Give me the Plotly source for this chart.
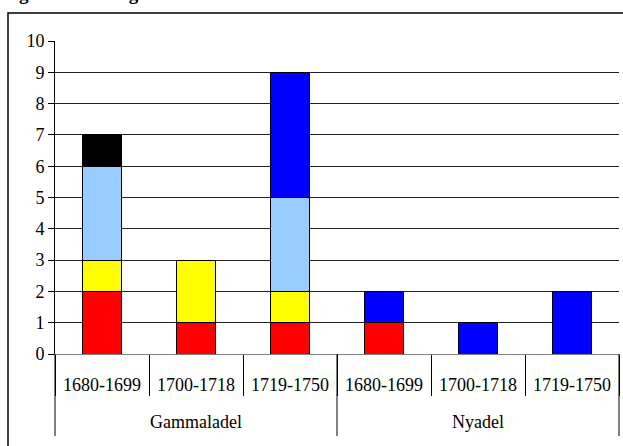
import plotly.graph_objects as go

groups = ["Gammaladel", "Gammaladel", "Gammaladel", "Nyadel", "Nyadel", "Nyadel"]
periods = ["1680-1699", "1700-1718", "1719-1750", "1680-1699", "1700-1718", "1719-1750"]
group_names = ["Gammaladel", "Nyadel"]

serie_1 = [2, 1, 1, 1, 0, 0]
serie_2 = [1, 2, 1, 0, 0, 0]
serie_3 = [3, 0, 3, 0, 0, 0]
serie_4 = [1, 0, 0, 0, 0, 0]
serie_5 = [0, 0, 4, 1, 1, 2]

series = [
    ("Serie 1", serie_1, "#FF0000"),
    ("Serie 2", serie_2, "#FFFF00"),
    ("Serie 3", serie_3, "#99CCFF"),
    ("Serie 4", serie_4, "#000000"),
    ("Serie 5", serie_5, "#0000FF"),
]

title_text = "Figur 4a. Manlig danskt-skånsk adel"

FONT = "Liberation Serif"

n = len(periods)
xpos = list(range(n))

fig = go.Figure()
for name, vals, col in series:
    fig.add_trace(go.Bar(
        x=xpos, y=vals, name=name, width=0.415,
        customdata=[[g, p] for g, p in zip(groups, periods)],
        hovertemplate="%{customdata[0]} %{customdata[1]}: %{y}<extra>" + name + "</extra>",
        marker=dict(color=col, line=dict(color="#000000", width=1)),
        showlegend=False,
    ))

L, R, T, B = 55, 4, 41, 92
W, H = 623, 446
pw, ph = W - L - R, H - T - B

def px_x(p):
    return (p - L) / pw

def px_y(p):
    return (H - B - p) / ph

shapes = [dict(
    type="rect", xref="paper", yref="paper",
    x0=px_x(8), x1=px_x(700), y0=px_y(600), y1=px_y(13),
    line=dict(color="#000000", width=1.5), fillcolor="rgba(0,0,0,0)",
    layer="below",
)]
ng = len(group_names)
for k in range(ng + 1):
    xp = k / ng
    shapes.append(dict(
        type="line", xref="paper", yref="paper",
        x0=xp, x1=xp, y0=0, y1=px_y(436),
        line=dict(color="#000000", width=1),
    ))

annotations = [dict(
    text="<b>" + title_text + "</b>", xref="paper", yref="paper",
    x=px_x(0), y=px_y(-6), xanchor="left", yanchor="middle",
    showarrow=False, font=dict(family=FONT, size=19, color="#000000"),
)]
for i, g in enumerate(group_names):
    annotations.append(dict(
        text=g, xref="paper", yref="paper",
        x=(i + 0.5) / ng, y=px_y(422), xanchor="center", yanchor="middle",
        showarrow=False, font=dict(family=FONT, size=18, color="#000000"),
    ))

fig.update_layout(
    barmode="stack",
    width=W, height=H,
    margin=dict(l=L, r=R, t=T, b=B, pad=0),
    paper_bgcolor="white",
    plot_bgcolor="white",
    font=dict(family=FONT, size=18, color="#000000"),
    xaxis=dict(
        range=[-0.5, n - 0.5],
        tickmode="array", tickvals=xpos, ticktext=periods,
        ticks="", ticklabelstandoff=14,
        showline=True, linecolor="#808080", linewidth=1,
        minor=dict(tick0=-0.5, dtick=1, ticks="outside", ticklen=41,
                   tickcolor="#000000", tickwidth=1, showgrid=False),
        tickfont=dict(family=FONT, size=18, color="#000000"),
        showgrid=False, zeroline=False,
    ),
    yaxis=dict(
        range=[0, 10], dtick=1, tick0=0,
        showline=True, linecolor="#000000", linewidth=1,
        ticks="outside", ticklen=6, tickcolor="#000000",
        showgrid=True, gridcolor="#222222", gridwidth=1,
        zeroline=False,
        tickfont=dict(family=FONT, size=18, color="#000000"),
    ),
    shapes=shapes,
    annotations=annotations,
)

fig.write_html(
    "out.html",
    config={"displayModeBar": False},
    post_script="document.body.style.margin='0';document.body.style.overflow='hidden';",
)
